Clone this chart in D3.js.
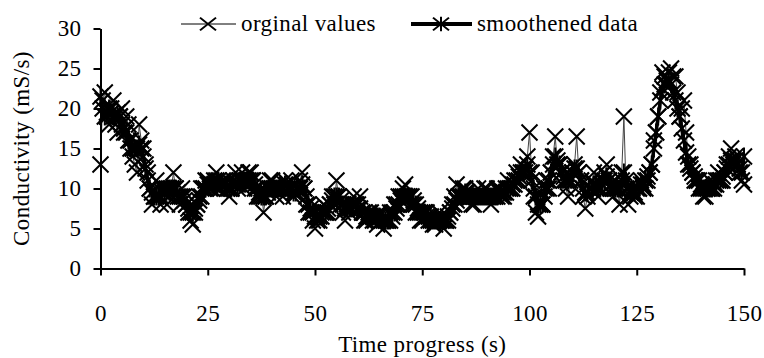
<!DOCTYPE html>
<html>
<head>
<meta charset="utf-8">
<script src="https://cdn.jsdelivr.net/npm/d3@7"></script>
<style>
  body { margin: 0; background: white; }
  svg text { font-family: 'Liberation Serif', 'DejaVu Serif', 'Times New Roman', serif; letter-spacing: 0.4px; }
</style>
</head>
<body>
<script>
const NOIR = '#000'
const TAILLE = 23

// time in seconds (one reading every half second)
const temps = d3.range(0, 301).map(i => i / 2)

// orginal values (mS/s), 10 readings per row = 5 s
const valeursOriginales = [
  13, 21, 22, 19, 18, 20, 21, 18, 17, 19,
  20, 17, 19, 18, 16, 14, 13, 12, 18, 16,
  15, 13, 12, 10, 8, 9, 11, 9, 8, 10,
  10, 8, 9, 10, 12, 10, 9, 8, 10, 9,
  8, 7, 6, 5.5, 7, 8, 9, 10, 10, 11,
  11, 10, 10, 11, 12, 10, 10, 11, 11, 10,
  9, 10, 11, 12, 10, 11, 12, 10, 11, 12,
  12, 11, 10, 9, 9, 10, 7, 9, 10, 11,
  11, 10, 9, 10, 10, 9, 11, 10, 10, 11,
  9, 10, 10, 11, 12, 10, 8, 7, 7, 6,
  5, 6, 6, 7, 8, 7, 7, 8, 9, 8,
  11, 9, 8, 7, 6, 8, 7, 8, 9, 8,
  8, 9, 7, 6, 6, 7, 7, 6, 6, 5.5,
  7, 6, 5, 6, 6, 7, 7, 8, 8, 9,
  9, 10, 10.5, 9, 9, 8, 8, 7, 7, 6,
  6, 7, 7, 6, 6, 5.5, 5.5, 6, 7, 6,
  5, 6, 6, 7, 8, 9, 10.5, 9, 9, 10,
  10, 9, 9, 8, 8, 9, 10, 9, 9, 10,
  10, 9, 8, 9, 9, 10, 10, 9, 9, 10,
  11, 10, 10, 11, 12, 11, 13, 12, 12, 14,
  17, 12, 9, 7, 6.5, 8, 8, 10, 11, 10,
  12, 14, 16.5, 13, 13, 12, 11, 10, 9, 11,
  12, 13, 16.5, 12, 11, 9, 7.5, 9, 10, 11,
  12, 10, 9, 10, 11, 12, 13, 11, 10, 9,
  11, 10, 8, 12, 19, 10, 8, 9, 10, 9,
  9, 10, 11, 10, 10, 11, 12, 13, 16, 17,
  19, 22, 24.5, 24, 23, 24.5, 25, 24, 24, 22,
  19, 20, 21, 17, 14, 13, 12, 11, 11, 10,
  10, 9, 9, 10, 11, 10, 10, 11, 12, 11,
  11, 12, 13, 14, 15, 13, 14, 13, 12, 11,
  10.5
]

// smoothened data (mS/s), 10 readings per row = 5 s
const valeursLissees = [
  21.5, 20, 19, 19.5, 20, 19.5, 19, 19, 19.5, 19,
  18, 17.5, 17, 16, 15, 15, 15, 15, 15.5, 15,
  14, 12.5, 11, 10, 9.5, 9, 9, 9, 9, 9.5,
  9.5, 10, 10, 10, 10, 10, 9.5, 9, 9, 8.5,
  8, 7.5, 7, 7, 7.5, 8, 8.5, 9, 10, 10,
  10.5, 10.5, 10.5, 10.5, 11, 11, 10.5, 10.5, 10.5, 10,
  10, 10, 10.5, 10.5, 10.5, 11, 11, 11, 11, 11,
  11, 11, 10.5, 10, 9.5, 9, 9, 9, 9.5, 10,
  10, 10, 10, 10, 10, 10, 10.5, 10.5, 10, 10,
  9.5, 9.5, 10, 10, 10.5, 10, 9, 8, 7.5, 7,
  6.5, 6.5, 6.5, 6.5, 7, 7, 7.5, 8, 8.5, 9,
  9, 9, 8.5, 8, 7.5, 7.5, 7.5, 7.5, 8, 8,
  7.5, 7.5, 7, 7, 6.5, 6.5, 6.5, 6.5, 6.5, 6.5,
  6.5, 6, 6, 6, 6, 6, 6.5, 7, 7.5, 8,
  8.5, 9, 9, 9, 9, 9, 8.5, 8, 7.5, 7,
  7, 7, 6.5, 6.5, 6.5, 6, 6, 6, 6, 6,
  6, 6, 6.5, 7, 7.5, 8, 8.5, 9, 9, 9,
  9.5, 9.5, 9, 9, 9, 9, 9, 9, 9, 9,
  9, 9, 9, 9, 9, 9, 9.5, 9.5, 9.5, 9.5,
  10, 10, 10.5, 10.5, 11, 11.5, 12, 12, 12.5, 13,
  12, 11, 10, 9, 8, 8, 8, 9, 10, 11,
  12, 13, 14, 13.5, 13, 12, 11.5, 11, 11, 11.5,
  12, 12.5, 12.5, 12, 11, 10, 9.5, 9.5, 10, 10,
  10.5, 10.5, 10, 10, 10.5, 11, 11.5, 11, 10.5, 10,
  10, 10, 10, 11, 12, 11, 10, 9.5, 9.5, 9.5,
  10, 10, 10.5, 10.5, 11, 11.5, 12, 13, 15, 17,
  19, 21, 22.5, 23, 23.5, 23.5, 23, 22, 21, 20,
  19, 17.5, 16, 14.5, 13, 12.5, 12, 11.5, 11, 11,
  10.5, 10, 10, 10, 10, 10, 10.5, 10.5, 11, 11,
  11.5, 12, 12.5, 13, 13.5, 13.5, 13.5, 13, 12.5, 12,
  14
]

const ticksX = [0, 25, 50, 75, 100, 125, 150]
const ticksY = [0, 5, 10, 15, 20, 25, 30]

const width = 764,
    height = 358

const svg = d3.select('body').append('svg')
    .attr('width', width).attr('height', height)
    .style('background-color', 'white')

const x = d3.scaleLinear().domain([0, 150]).range([100.5, 744])
const y = d3.scaleLinear().domain([0, 30]).range([268.5, 28.5])

const croix = 'M-8,-8L8,8M-8,8L8,-8'
const etoile = 'M-8,-8L8,8M-8,8L8,-8M0,-9L0,9'

//Original series: thin line + crosses
const ptsOrig = temps.map((t, i) => [t, valeursOriginales[i]])
svg.append('path')
    .datum(ptsOrig)
    .attr('fill', 'none').attr('stroke', '#444').attr('stroke-width', 1)
    .attr('d', d3.line().x(d => x(d[0])).y(d => y(d[1])))
svg.append('g').selectAll('path').data(ptsOrig).join('path')
    .attr('transform', d => `translate(${x(d[0])},${y(d[1])})`)
    .attr('d', croix).attr('fill', 'none').attr('stroke', NOIR).attr('stroke-width', 2)

//Smoothed series: thick line + asterisks
const ptsLiss = temps.map((t, i) => [t, valeursLissees[i]])
svg.append('path')
    .datum(ptsLiss)
    .attr('fill', 'none').attr('stroke', NOIR).attr('stroke-width', 3.5).attr('stroke-linejoin', 'round')
    .attr('d', d3.line().x(d => x(d[0])).y(d => y(d[1])))
svg.append('g').selectAll('path').data(ptsLiss).join('path')
    .attr('transform', d => `translate(${x(d[0])},${y(d[1])})`)
    .attr('d', etoile).attr('fill', 'none').attr('stroke', NOIR).attr('stroke-width', 2)

//Axes
const axeX = svg.append('g').attr('transform', `translate(0,${y(0)})`)
    .call(d3.axisBottom(x).tickValues(ticksX).tickSize(7).tickSizeOuter(0).tickPadding(29))
const axeY = svg.append('g').attr('transform', `translate(${x(0)},0)`)
    .call(d3.axisLeft(y).tickValues(ticksY).tickSize(7).tickSizeOuter(0).tickPadding(12))
for (const a of [axeX, axeY]) {
  a.attr('font-family', null)
  a.select('.domain').attr('stroke', NOIR).attr('stroke-width', 2)
  a.selectAll('.tick line').attr('stroke', NOIR).attr('stroke-width', 2)
  a.selectAll('.tick text').attr('font-size', TAILLE).attr('fill', NOIR)
}

//Axis titles
svg.append('text').text('Time progress (s)')
    .attr('x', (x(0) + x(150)) / 2).attr('y', 352).attr('text-anchor', 'middle')
    .attr('font-size', TAILLE).attr('fill', NOIR)
svg.append('text').text('Conductivity (mS/s)')
    .attr('transform', `translate(29,${(y(0) + y(30)) / 2}) rotate(-90)`).attr('text-anchor', 'middle')
    .attr('font-size', TAILLE).attr('fill', NOIR)

//Legend
const legende = [
  { nom: 'orginal values', x1: 181, x2: 236, mx: 208, epais: 1, symbole: croix },
  { nom: 'smoothened data', x1: 411, x2: 472, mx: 441, epais: 4, symbole: etoile }
]
legende.forEach(l => {
  svg.append('line').attr('x1', l.x1).attr('x2', l.x2).attr('y1', 24).attr('y2', 24)
      .attr('stroke', NOIR).attr('stroke-width', l.epais)
  svg.append('path').attr('transform', `translate(${l.mx},24) scale(1,0.8)`).attr('d', l.symbole)
      .attr('fill', 'none').attr('stroke', NOIR).attr('stroke-width', 2)
  svg.append('text').text(l.nom).attr('x', l.x2 + 5).attr('y', 31)
      .attr('font-size', TAILLE).attr('fill', NOIR)
})
</script>
</body>
</html>
